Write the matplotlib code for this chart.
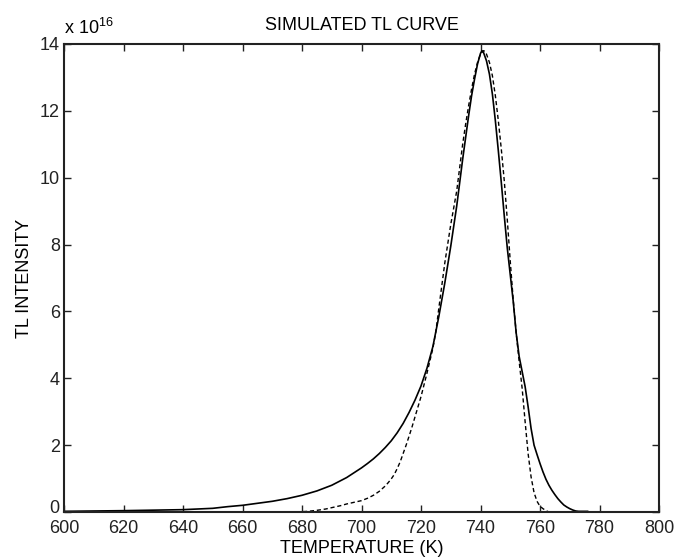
import matplotlib
matplotlib.use("Agg")
import matplotlib.pyplot as plt
from matplotlib.transforms import ScaledTranslation

plt.rcParams['font.family'] = ['Liberation Sans', 'DejaVu Sans']
plt.rcParams['mathtext.fontset'] = 'custom'
plt.rcParams['mathtext.rm'] = 'Liberation Sans'
plt.rcParams['mathtext.it'] = 'Liberation Sans'

# Solid curve (units of 1e16)
t_solid = [600, 620, 640, 645, 650, 655, 660, 665, 670, 675, 680, 685, 690, 695,
           700, 702, 704, 706, 708, 710, 712, 714, 716, 718, 720, 722, 724, 726,
           728, 730, 732, 734, 736, 737, 738, 739, 740, 740.5, 741, 742, 743, 744,
           745, 746, 747, 748, 749, 750, 751, 752, 753, 754, 755, 756, 757, 758,
           759, 760, 761, 762, 763, 764, 765, 766, 767, 768, 769, 770, 771, 772,
           773, 776]
i_solid = [0.02, 0.04, 0.07, 0.09, 0.11, 0.16, 0.20, 0.26, 0.32, 0.40, 0.50, 0.63,
           0.80, 1.03, 1.32, 1.45, 1.59, 1.75, 1.93, 2.13, 2.37, 2.65, 2.98, 3.35,
           3.77, 4.30, 4.95, 5.85, 6.85, 7.95, 9.15, 10.55, 11.85, 12.45, 12.95,
           13.40, 13.72, 13.80, 13.75, 13.50, 13.10, 12.50, 11.70, 10.80, 9.85, 8.85,
           7.90, 7.10, 6.30, 5.35, 4.65, 4.20, 3.75, 3.15, 2.50, 2.00, 1.72, 1.45,
           1.20, 0.98, 0.80, 0.65, 0.52, 0.40, 0.30, 0.21, 0.15, 0.10, 0.06, 0.03,
           0.02, 0.02]

# Dashed curve (units of 1e16)
t_dash = [678, 682, 685, 688, 690, 693, 695, 698, 700, 702, 704, 706, 708, 709,
          710, 711, 712, 713, 714, 715, 716, 717, 718, 719, 720, 722, 724, 725,
          726, 728, 730, 732, 733, 734, 735, 736, 737, 738, 739, 740, 741, 741.5,
          742, 743, 744, 745, 746, 747, 748, 749, 750, 751, 752, 753, 754, 755,
          756, 757, 758, 759, 760, 761, 762, 763]
i_dash = [0.0, 0.02, 0.05, 0.09, 0.13, 0.19, 0.24, 0.30, 0.34, 0.41, 0.50, 0.62,
          0.78, 0.88, 0.99, 1.12, 1.30, 1.50, 1.75, 2.00, 2.27, 2.55, 2.85, 3.15,
          3.45, 4.15, 4.90, 5.40, 6.10, 7.45, 8.60, 9.60, 10.30, 11.00, 11.60,
          12.15, 12.65, 13.10, 13.45, 13.70, 13.80, 13.78, 13.70, 13.45, 13.05,
          12.45, 11.70, 10.85, 9.90, 8.75, 7.50, 6.35, 5.35, 4.50, 3.70, 2.70, 1.75,
          1.05, 0.58, 0.32, 0.17, 0.10, 0.04, 0.0]

xticks = list(range(600, 801, 20))
yticks = list(range(0, 15, 2))

fig = plt.figure(figsize=(6.75, 5.6), dpi=100)
ax = fig.add_axes([64/675, 48/560, (659-64)/675, (512-44)/560])

ax.plot(t_solid, i_solid, color='black', lw=1.2, ls='-')
ax.plot(t_dash, i_dash, color='black', lw=1.0, ls=(0, (3, 2)))

ax.set_xlim(600, 800)
ax.set_ylim(0, 14)
ax.set_xticks(xticks)
ax.set_yticks(yticks)
ax.tick_params(direction='in', top=True, right=True, labelsize=13, length=5,
               width=1, colors='#222222', pad=3)
ax.tick_params(axis='x', pad=6)
for s in ax.spines.values():
    s.set_linewidth(1.5)
    s.set_color('#222222')

ax.set_title('SIMULATED TL CURVE', fontsize=13, pad=10)
ax.set_xlabel('TEMPERATURE (K)', fontsize=13, labelpad=2)
ax.set_ylabel('TL INTENSITY', fontsize=13, labelpad=5)
ax.text(0.0, 1.012, r'x 10$^{16}$', transform=ax.transAxes, ha='left',
        va='bottom', fontsize=13)

fig.canvas.draw()
zero_lbl = ax.get_yticklabels()[0]
zero_lbl.set_transform(zero_lbl.get_transform()
                       + ScaledTranslation(0, 4/72, fig.dpi_scale_trans))

fig.savefig('out.png', dpi=100)
